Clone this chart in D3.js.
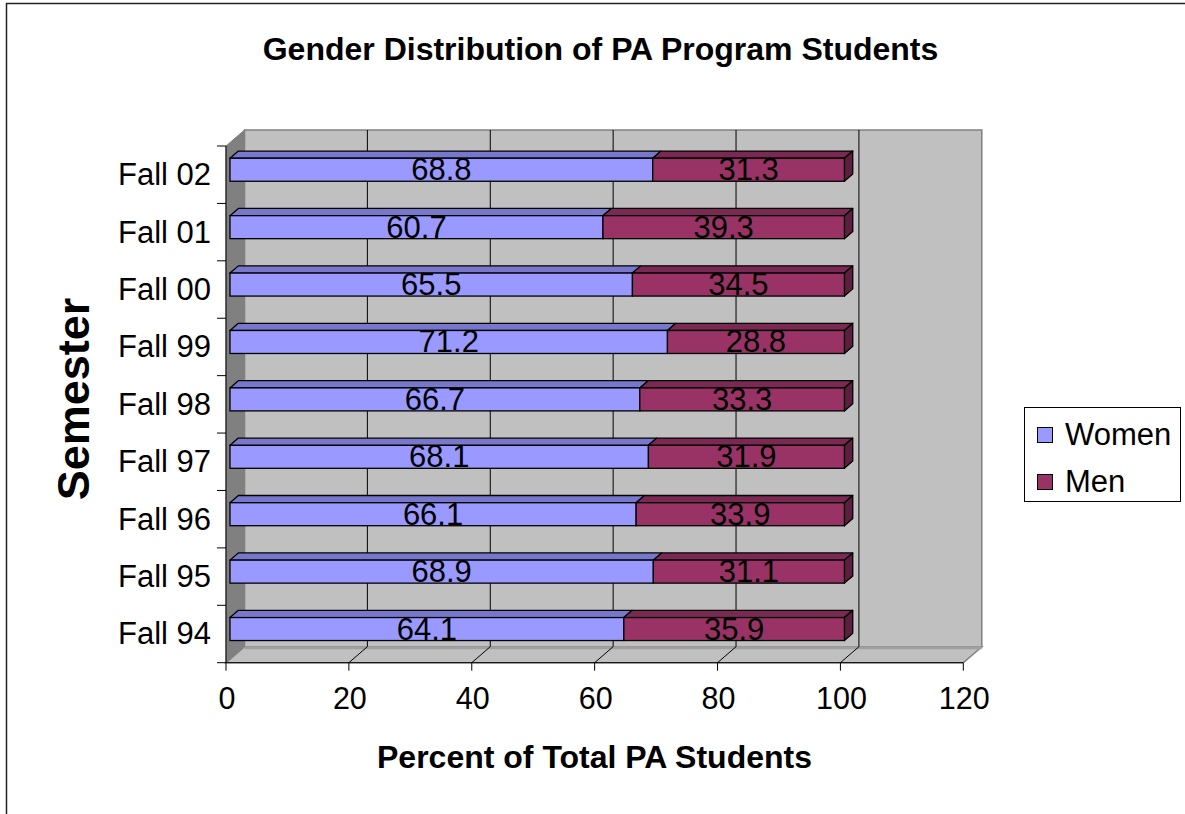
<!DOCTYPE html>
<html><head><meta charset="utf-8">
<script src="https://cdn.jsdelivr.net/npm/d3@7"></script>
<style>body{margin:0;background:#fff} svg{display:block} text{font-family:"Liberation Sans",Arial,sans-serif;fill:#000}</style>
</head><body><svg id="c" width="1185" height="814"></svg>
<script>
const semesters = ["Fall 94","Fall 95","Fall 96","Fall 97","Fall 98","Fall 99","Fall 00","Fall 01","Fall 02"];
const women = [64.1,68.9,66.1,68.1,66.7,71.2,65.5,60.7,68.8];
const men = [35.9,31.1,33.9,31.9,33.3,28.8,34.5,39.3,31.3];
const xTicks = [0,20,40,60,80,100,120];
const seriesNames = ["Women","Men"];

const colors = {
  Women: {front:"#9999FF", top:"#7777CC", side:"#5C5C99"},
  Men:   {front:"#993366", top:"#7A2952", side:"#5C1F3D"}
};

const svg = d3.select("#c");
svg.append("rect").attr("x",6.5).attr("y",3.5).attr("width",1200).attr("height",830)
  .attr("fill","#fff").attr("stroke","#222").attr("stroke-width",1.5);

const x = d3.scaleLinear().domain([0,120]).range([226,963.3]);
const y = d3.scaleBand().domain(semesters.slice().reverse()).range([146,662.7]).padding(0);
const DX = 18.5, DY = -16;
const zf = 0.216, zb = 0.666;
const yTop = y.range()[0], yBot = y.range()[1];
const P = pts => pts.map(p=>p.join(",")).join(" ");

// back wall
svg.append("polygon").attr("points",P([[x(0)+DX,yTop+DY],[x(120)+DX,yTop+DY],[x(120)+DX,yBot+DY],[x(0)+DX,yBot+DY]]))
  .attr("fill","#C0C0C0").attr("stroke","#808080").attr("stroke-width",1.5);
// left wall
svg.append("polygon").attr("points",P([[x(0),yTop],[x(0)+DX,yTop+DY],[x(0)+DX,yBot+DY],[x(0),yBot]]))
  .attr("fill","#808080").attr("stroke","#808080").attr("stroke-width",1);
// floor
svg.append("polygon").attr("points",P([[x(0),yBot],[x(120),yBot],[x(120)+DX,yBot+DY],[x(0)+DX,yBot+DY]]))
  .attr("fill","#C0C0C0").attr("stroke","#808080").attr("stroke-width",1.5);
svg.append("line").attr("x1",x(0)+DX).attr("x2",x(120)+DX).attr("y1",yBot+DY+1).attr("y2",yBot+DY+1)
  .attr("stroke","#A0A0A0").attr("stroke-width",3);

// gridlines
const grid = xTicks.filter(v=>v>0 && v<120);
svg.append("g").selectAll("line.g").data(grid).join("line")
  .attr("x1",d=>x(d)+DX).attr("x2",d=>x(d)+DX).attr("y1",yTop+DY).attr("y2",yBot+DY)
  .attr("stroke","#000").attr("stroke-width",1);
svg.append("g").selectAll("line.f").data(grid).join("line")
  .attr("x1",d=>x(d)).attr("x2",d=>x(d)+DX).attr("y1",yBot).attr("y2",yBot+DY)
  .attr("stroke","#000").attr("stroke-width",1);

// bars
const H = 23;
const rows = semesters.map((s,i)=>({s, segs:[{name:"Women",v0:0,v1:women[i],val:women[i]},{name:"Men",v0:women[i],v1:women[i]+men[i],val:men[i]}]}));
const gb = svg.append("g");
const ddx = (zb-zf)*DX, ddy = (zb-zf)*DY;
rows.forEach(r=>{
  const yc = y(r.s) + y.bandwidth()/2 - 1.5;
  r.segs.forEach((sg,j)=>{
    const x0 = x(sg.v0)+zf*DX, x1 = x(Math.min(sg.v1,100))+zf*DX;
    const y0 = yc - H/2 + zf*DY, y1 = y0 + H;
    const c = colors[sg.name];
    gb.append("polygon").attr("points",P([[x0,y0],[x1,y0],[x1+ddx,y0+ddy],[x0+ddx,y0+ddy]]))
      .attr("fill",c.top).attr("stroke","#000").attr("stroke-width",1.3).attr("stroke-linejoin","round");
    if (j===r.segs.length-1) {
      gb.append("polygon").attr("points",P([[x1,y0],[x1+ddx,y0+ddy],[x1+ddx,y1+ddy],[x1,y1]]))
        .attr("fill",c.side).attr("stroke","#000").attr("stroke-width",1.3).attr("stroke-linejoin","round");
    }
    gb.append("rect").attr("x",x0).attr("y",y0).attr("width",x1-x0).attr("height",H)
      .attr("fill",c.front).attr("stroke","#000").attr("stroke-width",1.3);
    gb.append("text").attr("x",(x0+x1)/2).attr("y",y1-1).attr("text-anchor","middle")
      .attr("font-size",31).text(sg.val.toFixed(1));
  });
});

// axes
svg.append("line").attr("x1",x(0)).attr("x2",x(0)).attr("y1",yTop).attr("y2",yBot).attr("stroke","#000").attr("stroke-width",1);
svg.append("line").attr("x1",x(0)).attr("x2",x(120)).attr("y1",yBot).attr("y2",yBot).attr("stroke","#000").attr("stroke-width",1);
const yt = semesters.map(s=>y(s)).concat([yBot]);
svg.append("g").selectAll("line").data(yt).join("line")
  .attr("x1",x(0)-9).attr("x2",x(0)).attr("y1",d=>d).attr("y2",d=>d).attr("stroke","#000");
svg.append("g").selectAll("line").data(xTicks).join("line")
  .attr("x1",d=>x(d)).attr("x2",d=>x(d)).attr("y1",yBot).attr("y2",yBot+8).attr("stroke","#000");
svg.append("g").selectAll("text").data(semesters).join("text")
  .attr("x",211).attr("y",d=>y(d)+y.bandwidth()/2+10.5).attr("text-anchor","end")
  .attr("font-size",31).text(d=>d);
svg.append("g").selectAll("text").data(xTicks).join("text")
  .attr("x",d=>x(d)+1).attr("y",709).attr("text-anchor","middle")
  .attr("font-size",30.5).text(d=>d);

// titles
svg.append("text").attr("x",600.5).attr("y",60).attr("text-anchor","middle")
  .attr("font-size",32).attr("font-weight","bold").text("Gender Distribution of PA Program Students");
svg.append("text").attr("x",594.5).attr("y",768).attr("text-anchor","middle")
  .attr("font-size",32).attr("font-weight","bold").text("Percent of Total PA Students");
svg.append("text").attr("transform","translate(89,399) rotate(-90)").attr("text-anchor","middle")
  .attr("font-size",45).attr("font-weight","bold").text("Semester");

// legend
const lg = svg.append("g");
lg.append("rect").attr("x",1024.5).attr("y",407.5).attr("width",156).attr("height",94)
  .attr("fill","#fff").attr("stroke","#000").attr("stroke-width",1);
seriesNames.forEach((n,i)=>{
  const yy = 427 + i*47;
  lg.append("rect").attr("x",1037.5).attr("y",yy+0.5).attr("width",15).attr("height",15)
    .attr("fill",colors[n].front).attr("stroke","#000").attr("stroke-width",1);
  lg.append("text").attr("x",1065).attr("y",yy+18).attr("font-size",31).text(n);
});
</script></body></html>
